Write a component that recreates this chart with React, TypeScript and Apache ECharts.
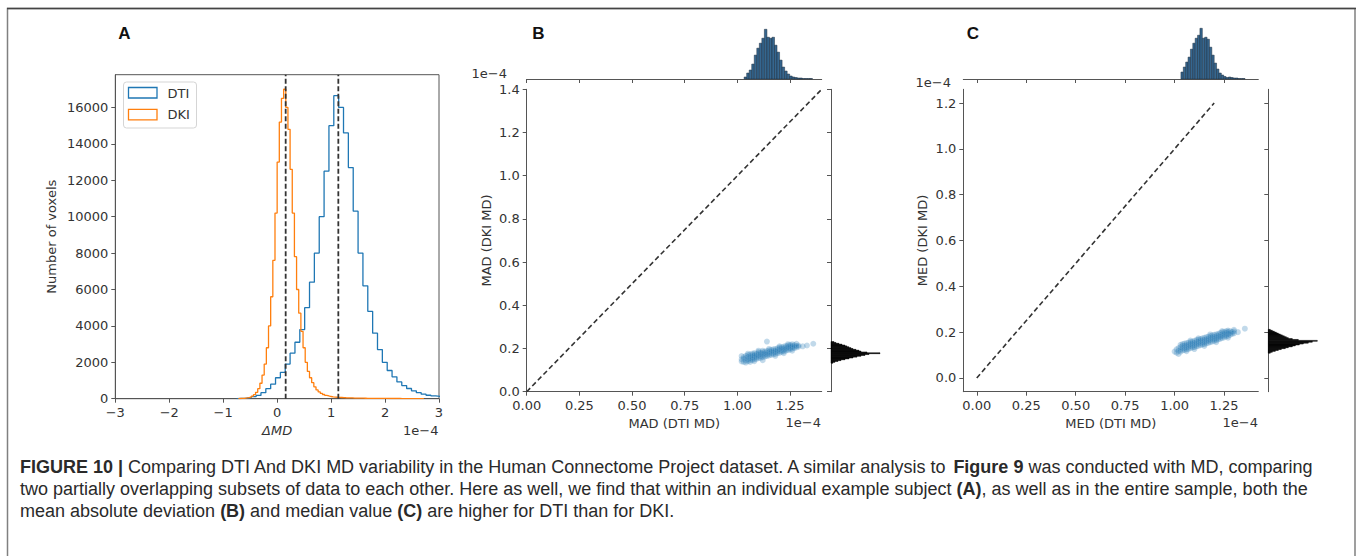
import React, { useEffect, useRef } from 'react';
import * as echarts from 'echarts';

// ---------- Panel A: histograms of ΔMD (units 1e-4) ----------
const dtiStart = -0.75;
const dtiBinWidth = 0.09;
const dtiCounts = [15, 30, 60, 110, 180, 330, 550, 800, 1150, 1450, 1900, 2500, 3100, 3800, 5000, 6400, 8000, 10000, 12500, 15000, 16650, 16000, 14600, 12700, 10300, 8000, 6200, 4800, 3600, 2700, 2000, 1550, 1200, 920, 720, 560, 430, 330, 250, 190, 150, 120];
const dkiStart = -0.72;
const dkiBinWidth = 0.04;
const dkiCounts = [10, 15, 25, 40, 60, 90, 140, 220, 350, 550, 850, 1300, 1900, 2800, 4000, 5600, 7600, 10200, 13000, 15200, 16500, 17000, 16000, 14800, 12600, 10200, 7800, 6000, 4700, 3700, 2800, 2000, 1500, 1150, 880, 650, 480, 370, 290, 230, 185, 150, 120, 100,
  90, 80, 72, 65, 58, 52, 47, 43, 40, 37, 34, 31, 29, 27, 25, 23, 21, 20, 19, 18, 17, 16, 15, 14, 13, 12, 12, 11, 11, 10, 10, 9, 9, 8, 8, 8, 7, 7, 7, 6, 6, 5];
const dtiMedian = 1.134;
const dkiMedian = 0.158;
const aYTicks = [0, 2000, 4000, 6000, 8000, 10000, 12000, 14000, 16000];
const seriesNames = ['DTI', 'DKI'];

// ---------- Panel B: MAD ----------
const madScatter: number[][] = [
  [1.02, 0.150], [1.02, 0.165], [1.02, 0.140], [1.03, 0.138], [1.03, 0.152], [1.03, 0.160], [1.04, 0.145], [1.04, 0.156], [1.04, 0.166], [1.04, 0.135],
  [1.05, 0.142], [1.05, 0.150], [1.05, 0.160], [1.05, 0.170], [1.05, 0.176], [1.06, 0.147], [1.06, 0.155], [1.06, 0.163], [1.06, 0.172], [1.06, 0.138],
  [1.07, 0.146], [1.07, 0.153], [1.07, 0.160], [1.07, 0.168], [1.07, 0.176], [1.08, 0.150], [1.08, 0.158], [1.08, 0.165], [1.08, 0.172], [1.08, 0.179], [1.08, 0.141],
  [1.09, 0.152], [1.09, 0.160], [1.09, 0.168], [1.09, 0.175], [1.10, 0.155], [1.10, 0.162], [1.10, 0.170], [1.10, 0.178], [1.10, 0.184], [1.10, 0.190],
  [1.11, 0.157], [1.11, 0.165], [1.11, 0.173], [1.11, 0.180], [1.12, 0.160], [1.12, 0.168], [1.12, 0.175], [1.12, 0.183], [1.12, 0.190], [1.12, 0.146],
  [1.13, 0.162], [1.13, 0.170], [1.13, 0.178], [1.13, 0.186], [1.14, 0.165], [1.14, 0.172], [1.14, 0.180], [1.14, 0.188], [1.14, 0.232],
  [1.15, 0.168], [1.15, 0.175], [1.15, 0.183], [1.15, 0.191], [1.15, 0.198], [1.16, 0.170], [1.16, 0.178], [1.16, 0.186], [1.16, 0.194],
  [1.17, 0.173], [1.17, 0.181], [1.17, 0.188], [1.17, 0.196], [1.18, 0.175], [1.18, 0.183], [1.18, 0.190], [1.18, 0.198], [1.18, 0.166],
  [1.19, 0.178], [1.19, 0.186], [1.19, 0.193], [1.19, 0.201], [1.20, 0.180], [1.20, 0.188], [1.20, 0.196], [1.20, 0.204], [1.20, 0.210],
  [1.21, 0.184], [1.21, 0.191], [1.21, 0.199], [1.21, 0.206], [1.22, 0.186], [1.22, 0.194], [1.22, 0.201], [1.22, 0.209], [1.22, 0.178],
  [1.23, 0.190], [1.23, 0.197], [1.23, 0.204], [1.23, 0.212], [1.24, 0.192], [1.24, 0.200], [1.24, 0.207], [1.24, 0.214], [1.24, 0.220],
  [1.25, 0.196], [1.25, 0.203], [1.25, 0.210], [1.25, 0.217], [1.26, 0.199], [1.26, 0.206], [1.26, 0.213], [1.26, 0.220], [1.26, 0.190],
  [1.27, 0.202], [1.27, 0.209], [1.27, 0.216], [1.28, 0.205], [1.28, 0.212], [1.28, 0.222], [1.29, 0.208], [1.29, 0.214],
  [1.31, 0.210], [1.33, 0.214], [1.36, 0.222]
];
const madTopStart = 1.032;
const madTopBinWidth = 0.012;
const madTopCounts = [4, 12, 18, 30, 48, 62, 72, 82, 100, 84, 82, 84, 68, 54, 38, 24, 16, 10, 6, 4, 3, 2, 2, 1, 1, 1, 1];
const madRightStart = 0.132;
const madRightBinWidth = 0.004;
const madRightCounts = [2, 4, 7, 10, 14, 18, 22, 26, 30, 34, 38, 49, 36, 30, 28, 25, 22, 20, 18, 16, 14, 11, 8, 5, 3];
const madXTicks = [0, 0.25, 0.5, 0.75, 1.0, 1.25];
const madYTicks = [0, 0.2, 0.4, 0.6, 0.8, 1.0, 1.2, 1.4];
const madIdentity = [[0, 0], [1.4, 1.4]];

// ---------- Panel C: MED ----------
const medScatter: number[][] = [
  [1.00, 0.115], [1.01, 0.110], [1.01, 0.125], [1.02, 0.118], [1.02, 0.130], [1.02, 0.105], [1.03, 0.115], [1.03, 0.124], [1.03, 0.135], [1.03, 0.145],
  [1.04, 0.120], [1.04, 0.130], [1.04, 0.140], [1.04, 0.148], [1.05, 0.122], [1.05, 0.131], [1.05, 0.140], [1.05, 0.150],
  [1.06, 0.125], [1.06, 0.134], [1.06, 0.143], [1.06, 0.152], [1.06, 0.117], [1.07, 0.127], [1.07, 0.136], [1.07, 0.145], [1.07, 0.154],
  [1.08, 0.130], [1.08, 0.139], [1.08, 0.148], [1.08, 0.157], [1.08, 0.163], [1.09, 0.133], [1.09, 0.142], [1.09, 0.150], [1.09, 0.159],
  [1.10, 0.135], [1.10, 0.144], [1.10, 0.153], [1.10, 0.162], [1.10, 0.126], [1.11, 0.138], [1.11, 0.147], [1.11, 0.156], [1.11, 0.165],
  [1.12, 0.140], [1.12, 0.149], [1.12, 0.158], [1.12, 0.167], [1.12, 0.173], [1.13, 0.143], [1.13, 0.152], [1.13, 0.161], [1.13, 0.170],
  [1.14, 0.146], [1.14, 0.155], [1.14, 0.164], [1.14, 0.173], [1.15, 0.148], [1.15, 0.157], [1.15, 0.166], [1.15, 0.175], [1.15, 0.140],
  [1.16, 0.151], [1.16, 0.160], [1.16, 0.169], [1.16, 0.178], [1.17, 0.153], [1.17, 0.162], [1.17, 0.171], [1.17, 0.180],
  [1.18, 0.156], [1.18, 0.165], [1.18, 0.174], [1.18, 0.183], [1.18, 0.190], [1.19, 0.159], [1.19, 0.168], [1.19, 0.177], [1.19, 0.186],
  [1.20, 0.162], [1.20, 0.170], [1.20, 0.179], [1.20, 0.188], [1.21, 0.165], [1.21, 0.173], [1.21, 0.182], [1.21, 0.190], [1.21, 0.156],
  [1.22, 0.168], [1.22, 0.176], [1.22, 0.185], [1.22, 0.193], [1.23, 0.171], [1.23, 0.179], [1.23, 0.187], [1.23, 0.196],
  [1.24, 0.174], [1.24, 0.182], [1.24, 0.190], [1.24, 0.199], [1.24, 0.205], [1.25, 0.177], [1.25, 0.185], [1.25, 0.193], [1.25, 0.201],
  [1.26, 0.181], [1.26, 0.189], [1.26, 0.197], [1.26, 0.204], [1.27, 0.184], [1.27, 0.192], [1.27, 0.200], [1.27, 0.207], [1.27, 0.176],
  [1.28, 0.188], [1.28, 0.196], [1.28, 0.204], [1.29, 0.192], [1.29, 0.200], [1.30, 0.195], [1.30, 0.203], [1.30, 0.210],
  [1.32, 0.200], [1.355, 0.215]
];
const medTopStart = 1.032;
const medTopBinWidth = 0.012;
const medTopCounts = [14, 24, 34, 44, 60, 72, 82, 88, 102, 82, 84, 80, 64, 48, 32, 20, 12, 8, 5, 3, 4, 3, 2, 2, 1, 1, 1];
const medRightStart = 0.108;
const medRightBinWidth = 0.004;
const medRightCounts = [2, 4, 7, 10, 13, 17, 20, 24, 27, 31, 35, 40, 44, 49, 30, 24, 20, 18, 16, 14, 12, 10, 8, 6, 4, 2];
const medXTicks = [0, 0.25, 0.5, 0.75, 1.0, 1.25];
const medYTicks = [0, 0.2, 0.4, 0.6, 0.8, 1.0, 1.2];
const medIdentity = [[0, 0], [1.2, 1.2]];

const captionLines = [
  '{b|FIGURE 10 |} Comparing DTI And DKI MD variability in the Human Connectome Project dataset. A similar analysis to {b|Figure 9} was conducted with MD, comparing',
  'two partially overlapping subsets of data to each other. Here as well, we find that within an individual example subject {b|(A)}, as well as in the entire sample, both the',
  'mean absolute deviation {b|(B)} and median value {b|(C)} are higher for DTI than for DKI.'
];

// ---------- helpers ----------
const r4 = (v: number) => Math.round(v * 10000) / 10000;
function stepData(start: number, width: number, counts: number[]) {
  const pts: number[][] = [[start, 0]];
  counts.forEach((c, i) => pts.push([r4(start + i * width), c]));
  pts.push([r4(start + counts.length * width), 0]);
  return pts;
}
function binData(start: number, width: number, counts: number[]) {
  return counts.map((c, i) => [r4(start + i * width), r4(start + (i + 1) * width), c]);
}

const AX = '#555';
const TXT = '#333';
const FONT = 'DejaVu Sans';
const CAP_FONT = '"Liberation Sans", Arial, sans-serif';
const minus = (s: string) => s.replace('-', '\u2212');

function axisBase(extra: any = {}) {
  return {
    splitLine: { show: false },
    axisLine: { show: true, onZero: false, lineStyle: { color: AX, width: 1 } },
    axisTick: { show: true, length: 4, lineStyle: { color: AX, width: 1 } },
    axisLabel: { color: TXT, fontSize: 13, fontFamily: FONT, margin: 7 },
    nameTextStyle: { color: TXT, fontSize: 13, fontFamily: FONT },
    ...extra
  };
}

function vBars(xAxisIndex: number, yAxisIndex: number, data: number[][], fill: string, stroke: string) {
  return {
    type: 'custom', xAxisIndex, yAxisIndex, data, silent: true,
    encode: { x: [0, 1], y: 2 },
    renderItem: (params: any, api: any) => {
      const a = api.coord([api.value(0), api.value(2)]);
      const b = api.coord([api.value(1), 0]);
      return { type: 'rect', shape: { x: a[0], y: a[1], width: b[0] - a[0], height: b[1] - a[1] }, style: { fill, stroke, lineWidth: 0.5 } };
    }
  };
}
function hBars(xAxisIndex: number, yAxisIndex: number, data: number[][], fill: string, stroke: string) {
  return {
    type: 'custom', xAxisIndex, yAxisIndex, data, silent: true,
    encode: { x: 2, y: [0, 1] },
    renderItem: (params: any, api: any) => {
      const a = api.coord([api.value(2), api.value(1)]);
      const b = api.coord([0, api.value(0)]);
      return { type: 'rect', shape: { x: b[0], y: a[1], width: a[0] - b[0], height: b[1] - a[1] }, style: { fill, stroke, lineWidth: 0.5 } };
    }
  };
}

export default function App() {
  const ref = useRef<HTMLDivElement>(null);
  useEffect(() => {
    if (!ref.current) return;
    const chart = echarts.init(ref.current, null, { renderer: 'svg' });
    const dash = { color: '#333', width: 1.8, type: [5, 2.5] as any };
    const diag = { color: '#333', width: 1.6, type: [5, 3] as any };
    const hiddenAxis = (gridIndex: number, min: number, max: number) => ({ type: 'value', gridIndex, min, max, show: false });
    const scatterStyle = { color: '#1f77b4', opacity: 0.28, borderColor: 'rgba(255,255,255,0.5)', borderWidth: 0.5 };

    const option: any = {
      animation: false,
      backgroundColor: '#fff',
      grid: [
        { left: 115.3, top: 74.7, width: 323.7, height: 324, show: true, borderColor: AX, borderWidth: 1, backgroundColor: 'transparent' },
        { left: 526.7, top: 89.3, width: 295, height: 302.4 },
        { left: 526.7, top: 29.3, width: 295, height: 49.7 },
        { left: 831, top: 89.3, width: 49, height: 302.4 },
        { left: 963.3, top: 89.3, width: 295, height: 302.4 },
        { left: 963.3, top: 28.3, width: 295, height: 50.7 },
        { left: 1268.3, top: 89.3, width: 49, height: 302.4 }
      ],
      xAxis: [
        axisBase({ type: 'value', gridIndex: 0, min: -3, max: 3, interval: 1, name: '\u0394MD', nameLocation: 'middle', nameGap: 24,
          nameTextStyle: { color: TXT, fontSize: 13, fontFamily: FONT, fontStyle: 'italic' },
          axisLabel: { color: TXT, fontSize: 13, fontFamily: FONT, margin: 7, formatter: (v: number) => minus(String(v)) } }),
        axisBase({ type: 'value', gridIndex: 1, min: 0, max: 1.4, name: 'MAD (DTI MD)', nameLocation: 'middle', nameGap: 24,
          axisTick: { show: true, length: 4, lineStyle: { color: AX }, customValues: madXTicks },
          axisLabel: { color: TXT, fontSize: 13, fontFamily: FONT, margin: 7, customValues: madXTicks, formatter: (v: number) => v.toFixed(2) } }),
        axisBase({ type: 'value', gridIndex: 2, min: 0, max: 1.4,
          axisTick: { show: true, length: 4, lineStyle: { color: AX }, customValues: madXTicks },
          axisLabel: { show: false } }),
        hiddenAxis(3, 0, 49),
        axisBase({ type: 'value', gridIndex: 4, min: -0.068, max: 1.423, name: 'MED (DTI MD)', nameLocation: 'middle', nameGap: 24,
          axisTick: { show: true, length: 4, lineStyle: { color: AX }, customValues: medXTicks },
          axisLabel: { color: TXT, fontSize: 13, fontFamily: FONT, margin: 7, customValues: medXTicks, formatter: (v: number) => v.toFixed(2) } }),
        axisBase({ type: 'value', gridIndex: 5, min: -0.068, max: 1.423,
          axisTick: { show: true, length: 4, lineStyle: { color: AX }, customValues: medXTicks },
          axisLabel: { show: false } }),
        hiddenAxis(6, 0, 49)
      ],
      yAxis: [
        axisBase({ type: 'value', gridIndex: 0, min: 0, max: 17800, name: 'Number of voxels', nameLocation: 'middle', nameGap: 57, nameRotate: 90,
          axisTick: { show: true, length: 4, lineStyle: { color: AX }, customValues: aYTicks },
          axisLabel: { color: TXT, fontSize: 13, fontFamily: FONT, margin: 7, customValues: aYTicks, formatter: (v: number) => String(v) } }),
        axisBase({ type: 'value', gridIndex: 1, min: 0, max: 1.4, name: 'MAD (DKI MD)', nameLocation: 'middle', nameGap: 34, nameRotate: 90,
          axisTick: { show: true, length: 4, lineStyle: { color: AX }, customValues: madYTicks },
          axisLabel: { color: TXT, fontSize: 13, fontFamily: FONT, margin: 7, customValues: madYTicks, formatter: (v: number) => v.toFixed(1) } }),
        hiddenAxis(2, 0, 100),
        axisBase({ type: 'value', gridIndex: 3, min: 0, max: 1.4,
          axisTick: { show: true, length: 4, lineStyle: { color: AX }, customValues: madYTicks },
          axisLabel: { show: false } }),
        axisBase({ type: 'value', gridIndex: 4, min: -0.06, max: 1.26, name: 'MED (DKI MD)', nameLocation: 'middle', nameGap: 34, nameRotate: 90,
          axisTick: { show: true, length: 4, lineStyle: { color: AX }, customValues: medYTicks },
          axisLabel: { color: TXT, fontSize: 13, fontFamily: FONT, margin: 7, customValues: medYTicks, formatter: (v: number) => v.toFixed(1) } }),
        hiddenAxis(5, 0, 102),
        axisBase({ type: 'value', gridIndex: 6, min: -0.06, max: 1.26,
          axisTick: { show: true, length: 4, lineStyle: { color: AX }, customValues: medYTicks },
          axisLabel: { show: false } })
      ],
      series: [
        { name: seriesNames[0], type: 'line', xAxisIndex: 0, yAxisIndex: 0, step: 'end', symbol: 'none', clip: true,
          data: stepData(dtiStart, dtiBinWidth, dtiCounts), lineStyle: { color: '#1f77b4', width: 1.3 } },
        { name: seriesNames[1], type: 'line', xAxisIndex: 0, yAxisIndex: 0, step: 'end', symbol: 'none', clip: true,
          data: stepData(dkiStart, dkiBinWidth, dkiCounts), lineStyle: { color: '#ff7f0e', width: 1.3 } },
        { type: 'line', xAxisIndex: 0, yAxisIndex: 0, symbol: 'none', data: [[dkiMedian, 0], [dkiMedian, 17800]], lineStyle: dash },
        { type: 'line', xAxisIndex: 0, yAxisIndex: 0, symbol: 'none', data: [[dtiMedian, 0], [dtiMedian, 17800]], lineStyle: dash },

        { type: 'line', xAxisIndex: 1, yAxisIndex: 1, symbol: 'none', data: madIdentity, lineStyle: diag },
        { type: 'scatter', xAxisIndex: 1, yAxisIndex: 1, data: madScatter, symbolSize: 6, itemStyle: scatterStyle },
        vBars(2, 2, binData(madTopStart, madTopBinWidth, madTopCounts), '#35668f', '#1b2b3b'),
        hBars(3, 3, binData(madRightStart, madRightBinWidth, madRightCounts), '#000', '#000'),

        { type: 'line', xAxisIndex: 4, yAxisIndex: 4, symbol: 'none', data: medIdentity, lineStyle: diag },
        { type: 'scatter', xAxisIndex: 4, yAxisIndex: 4, data: medScatter, symbolSize: 6, itemStyle: scatterStyle },
        vBars(5, 5, binData(medTopStart, medTopBinWidth, medTopCounts), '#35668f', '#1b2b3b'),
        hBars(6, 6, binData(medRightStart, medRightBinWidth, medRightCounts), '#000', '#000')
      ],
      graphic: [
        { type: 'rect', shape: { x: 7.5, y: 8.5, width: 1347.5, height: 560 }, style: { fill: 'none', stroke: '#808080', lineWidth: 1.5 }, z: 100 },
        { type: 'line', shape: { x1: 7, y1: 8.5, x2: 1356, y2: 8.5 }, style: { stroke: '#444', lineWidth: 1.5 }, z: 101 },
        // panel letters
        { type: 'text', x: 124.5, y: 33, style: { text: 'A', fill: '#111', font: 'bold 17px "Liberation Sans", Arial, sans-serif', align: 'center', verticalAlign: 'middle' } },
        { type: 'text', x: 538.3, y: 33.5, style: { text: 'B', fill: '#111', font: 'bold 17px "Liberation Sans", Arial, sans-serif', align: 'center', verticalAlign: 'middle' } },
        { type: 'text', x: 973, y: 33.5, style: { text: 'C', fill: '#111', font: 'bold 17px "Liberation Sans", Arial, sans-serif', align: 'center', verticalAlign: 'middle' } },
        // legend
        { type: 'rect', shape: { x: 123.5, y: 82, width: 73, height: 46, r: 3 }, style: { fill: 'rgba(255,255,255,0.85)', stroke: '#d5d5d5', lineWidth: 1 }, z: 50 },
        { type: 'rect', shape: { x: 128.5, y: 87.5, width: 28.5, height: 10.5 }, style: { fill: 'none', stroke: '#1f77b4', lineWidth: 1.3 }, z: 51 },
        { type: 'rect', shape: { x: 128.5, y: 109.3, width: 28.5, height: 10.5 }, style: { fill: 'none', stroke: '#ff7f0e', lineWidth: 1.3 }, z: 51 },
        { type: 'text', x: 167.5, y: 93, z: 51, style: { text: seriesNames[0], fill: TXT, font: '13px "DejaVu Sans"', align: 'left', verticalAlign: 'middle' } },
        { type: 'text', x: 167.5, y: 114.8, z: 51, style: { text: seriesNames[1], fill: TXT, font: '13px "DejaVu Sans"', align: 'left', verticalAlign: 'middle' } },
        // offset texts
        { type: 'text', x: 438.5, y: 430, style: { text: '1e\u22124', fill: TXT, font: '13px "DejaVu Sans"', align: 'right', verticalAlign: 'middle' } },
        { type: 'text', x: 821, y: 422.7, style: { text: '1e\u22124', fill: TXT, font: '13px "DejaVu Sans"', align: 'right', verticalAlign: 'middle' } },
        { type: 'text', x: 507, y: 73, style: { text: '1e\u22124', fill: TXT, font: '13px "DejaVu Sans"', align: 'right', verticalAlign: 'middle' } },
        { type: 'text', x: 1258, y: 422.7, style: { text: '1e\u22124', fill: TXT, font: '13px "DejaVu Sans"', align: 'right', verticalAlign: 'middle' } },
        { type: 'text', x: 951, y: 82, style: { text: '1e\u22124', fill: TXT, font: '13px "DejaVu Sans"', align: 'right', verticalAlign: 'middle' } },
        // caption
        ...captionLines.map((t, i) => ({
          type: 'text', x: 20, y: 467 + i * 22,
          style: { text: t, fill: '#2a2a2a', font: '18px ' + CAP_FONT, align: 'left', verticalAlign: 'middle',
            rich: { b: { fontWeight: 'bold', fontSize: 18, fontFamily: CAP_FONT, fill: '#2a2a2a' } } }
        }))
      ]
    };
    chart.setOption(option);
    return () => chart.dispose();
  }, []);
  return <div ref={ref} style={{ position: 'absolute', left: 0, top: 0, width: 1358, height: 556 }} />;
}
